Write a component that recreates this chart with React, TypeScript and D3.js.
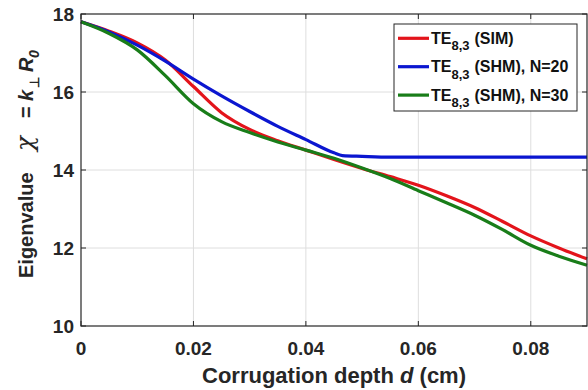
import * as d3 from "d3";

const depth = [0, 0.005, 0.01, 0.015, 0.02, 0.025, 0.03, 0.035, 0.04, 0.045, 0.05, 0.055, 0.06, 0.065, 0.07, 0.075, 0.08, 0.085, 0.09];
const simValues = [17.8, 17.56, 17.26, 16.82, 16.14, 15.47, 15.04, 14.75, 14.51, 14.27, 14.04, 13.83, 13.61, 13.34, 13.04, 12.68, 12.31, 12.0, 11.72];
const shm30Values = [17.8, 17.5, 17.08, 16.42, 15.7, 15.24, 14.96, 14.72, 14.51, 14.3, 14.05, 13.78, 13.47, 13.16, 12.84, 12.47, 12.07, 11.79, 11.56];
const shm20Depth = [0, 0.005, 0.01, 0.015, 0.02, 0.025, 0.03, 0.035, 0.04, 0.045, 0.0465, 0.05, 0.055, 0.06, 0.07, 0.08, 0.09];
const shm20Values = [17.8, 17.54, 17.2, 16.79, 16.33, 15.9, 15.5, 15.12, 14.78, 14.44, 14.37, 14.35, 14.33, 14.33, 14.33, 14.33, 14.33];

const xTicks = [0, 0.02, 0.04, 0.06, 0.08];
const xTickLabels = ["0", "0.02", "0.04", "0.06", "0.08"];
const yTicks = [10, 12, 14, 16, 18];

const margin = { left: 81, top: 14, right: 1, bottom: 64 };
const width = 588;
const height = 390;

export default function App() {
  const x = d3.scaleLinear().domain([0, 0.09]).range([margin.left, width - margin.right]);
  const y = d3.scaleLinear().domain([10, 18]).range([height - margin.bottom, margin.top]);
  const [x0, x1] = x.range();
  const [y0, y1] = y.range();

  const line = d3
    .line<[number, number]>()
    .x((d) => x(d[0]))
    .y((d) => y(d[1]))
    .curve(d3.curveMonotoneX);

  const series = [
    { name: "(SIM)", color: "#e3141b", pts: depth.map((d, i) => [d, simValues[i]] as [number, number]) },
    { name: "(SHM), N=20", color: "#0b16d0", pts: shm20Depth.map((d, i) => [d, shm20Values[i]] as [number, number]) },
    { name: "(SHM), N=30", color: "#197d19", pts: depth.map((d, i) => [d, shm30Values[i]] as [number, number]) },
  ];

  const font = "'Liberation Sans', Arial, sans-serif";
  const tick = 5;
  const ink = "#262626";

  return (
    <svg width={width} height={height} style={{ position: "absolute", left: 0, top: 0, background: "#fff" }} fontFamily={font}>
      {/* grid */}
      {xTicks.slice(1).map((t) => (
        <line key={"gx" + t} x1={x(t)} x2={x(t)} y1={y1} y2={y0} stroke="#dedede" strokeWidth={1} />
      ))}
      {yTicks.slice(1, -1).map((t) => (
        <line key={"gy" + t} x1={x0} x2={x1} y1={y(t)} y2={y(t)} stroke="#dedede" strokeWidth={1} />
      ))}

      {/* curves */}
      {series.map((s) => (
        <path key={s.name} d={line(s.pts) ?? ""} fill="none" stroke={s.color} strokeWidth={3.2} />
      ))}

      {/* box + ticks */}
      <rect x={x0} y={y1} width={x1 - x0} height={y0 - y1} fill="none" stroke={ink} strokeWidth={1.2} />
      {xTicks.map((t) => (
        <g key={"tx" + t}>
          <line x1={x(t)} x2={x(t)} y1={y0} y2={y0 - tick} stroke={ink} />
          <line x1={x(t)} x2={x(t)} y1={y1} y2={y1 + tick} stroke={ink} />
        </g>
      ))}
      {yTicks.map((t) => (
        <g key={"ty" + t}>
          <line x1={x0} x2={x0 + tick} y1={y(t)} y2={y(t)} stroke={ink} />
          <line x1={x1} x2={x1 - tick} y1={y(t)} y2={y(t)} stroke={ink} />
        </g>
      ))}

      {/* tick labels */}
      {xTicks.map((t, i) => (
        <text key={"lx" + t} x={x(t)} y={y0 + 29} textAnchor="middle" fontSize={19} fontWeight="bold" fill={ink}>
          {xTickLabels[i]}
        </text>
      ))}
      {yTicks.map((t) => (
        <text key={"ly" + t} x={x0 - 7} y={y(t) + 7} textAnchor="end" fontSize={19} fontWeight="bold" fill={ink}>
          {t}
        </text>
      ))}

      {/* axis labels */}
      <text x={(x0 + x1) / 2} y={383} textAnchor="middle" fontSize={22} fontWeight="bold" fill={ink}>
        Corrugation depth <tspan fontStyle="italic">d</tspan> (cm)
      </text>
      <g transform="translate(33, 0) rotate(-90)" fill={ink}>
        <text fontSize={20} fontWeight="bold">
          <tspan x={-278}>Eigenvalue</tspan>
          <tspan x={-151} fontFamily="'DejaVu Serif', serif" fontStyle="italic" fontWeight="normal" fontSize={25}>χ</tspan>
          <tspan x={-118}>=</tspan>
          <tspan x={-101} fontStyle="italic">k</tspan>
          <tspan x={-88} dy={6} fontSize={13}>⊥</tspan>
          <tspan x={-72} dy={-6} fontStyle="italic">R</tspan>
          <tspan x={-58} dy={6} fontSize={14} fontStyle="italic">0</tspan>
        </text>
      </g>

      {/* legend */}
      <rect x={394} y={24} width={183} height={87} fill="#fff" stroke={ink} strokeWidth={1} />
      {series.map((s, i) => {
        const ly = 38.3 + i * 28.4;
        return (
          <g key={"lg" + s.name}>
            <line x1={398} x2={429} y1={ly} y2={ly} stroke={s.color} strokeWidth={3.2} />
            <text x={431} y={ly + 5.5} fontSize={16} fontWeight="bold" fill="#111">
              TE
              <tspan fontSize={13} dy={6.5}>8,3</tspan>
              <tspan dy={-6.5} dx={5}>{s.name}</tspan>
            </text>
          </g>
        );
      })}
    </svg>
  );
}
